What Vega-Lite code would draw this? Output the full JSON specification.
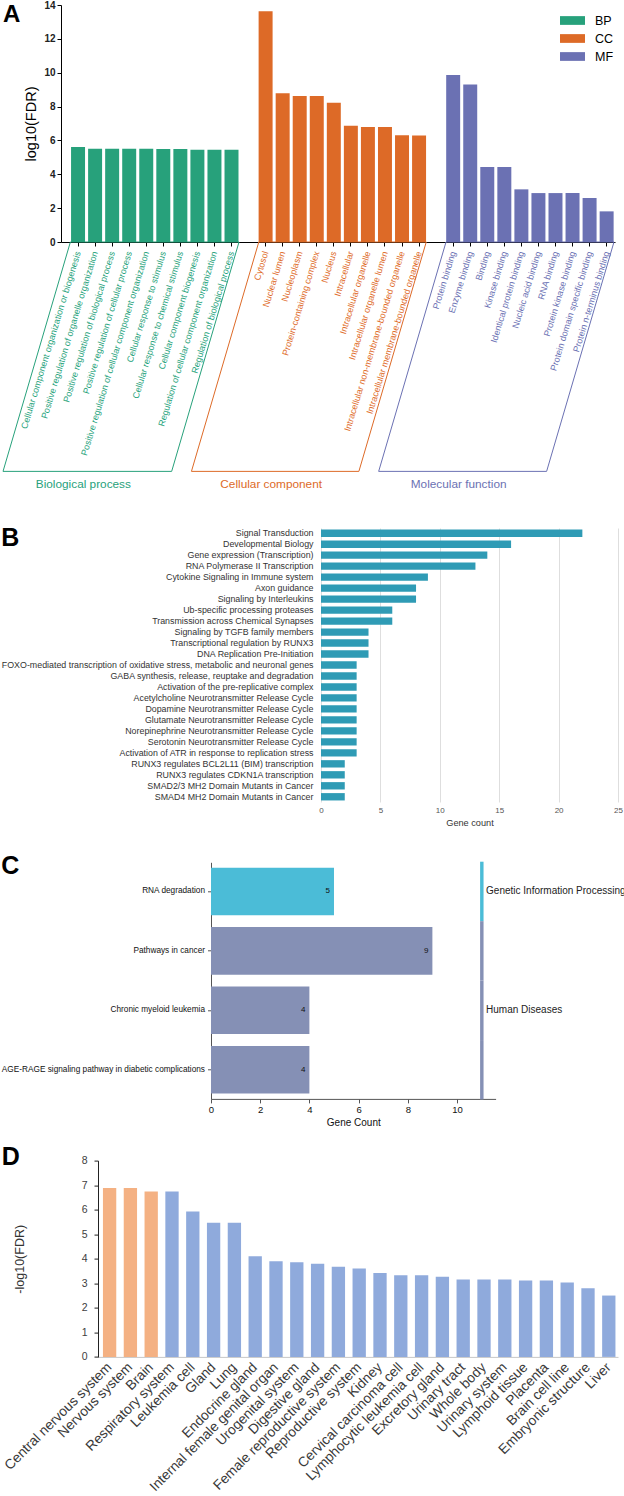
{
 "$schema": "https://vega.github.io/schema/vega-lite/v6.json",
 "background": "white",
 "padding": {"left": 0, "top": 0, "right": 0, "bottom": 0},
 "config": {
  "font": "Liberation Sans",
  "view": {"stroke": null},
  "axis": {"labelFont": "Liberation Sans", "titleFont": "Liberation Sans", "labelOverlap": false, "labelFlush": false},
  "legend": {"labelFont": "Liberation Sans"},
  "title": {"font": "Liberation Sans", "fontWeight": "bold", "color": "black", "anchor": "start", "frame": "bounds", "fontSize": 25}
 },
 "datasets": {
  "goTerms": [
   {"term": "Cellular component organization or biogenesis", "group": "BP", "value": 5.61},
   {"term": "Positive regulation of organelle organization", "group": "BP", "value": 5.51},
   {"term": "Positive regulation of biological process", "group": "BP", "value": 5.51},
   {"term": "Positive regulation of cellular process", "group": "BP", "value": 5.51},
   {"term": "Positive regulation of cellular component organization", "group": "BP", "value": 5.51},
   {"term": "Cellular response to stimulus", "group": "BP", "value": 5.49},
   {"term": "Cellular response to chemical stimulus", "group": "BP", "value": 5.49},
   {"term": "Cellular component biogenesis", "group": "BP", "value": 5.45},
   {"term": "Regulation of cellular component organization", "group": "BP", "value": 5.45},
   {"term": "Regulation of biological process", "group": "BP", "value": 5.45},
   {"term": "Cytosol", "group": "CC", "value": 13.63},
   {"term": "Nuclear lumen", "group": "CC", "value": 8.79},
   {"term": "Nucleoplasm", "group": "CC", "value": 8.63},
   {"term": "Protein-containing complex", "group": "CC", "value": 8.63},
   {"term": "Nucleus", "group": "CC", "value": 8.23},
   {"term": "Intracellular", "group": "CC", "value": 6.86},
   {"term": "Intracellular organelle", "group": "CC", "value": 6.79},
   {"term": "Intracellular organelle lumen", "group": "CC", "value": 6.79},
   {"term": "Intracellular non-membrane-bounded organelle", "group": "CC", "value": 6.31},
   {"term": "Intracellular membrane-bounded organelle", "group": "CC", "value": 6.29},
   {"term": "Protein binding", "group": "MF", "value": 9.87},
   {"term": "Enzyme binding", "group": "MF", "value": 9.3},
   {"term": "Binding", "group": "MF", "value": 4.43},
   {"term": "Kinase binding", "group": "MF", "value": 4.43},
   {"term": "Identical protein binding", "group": "MF", "value": 3.11},
   {"term": "Nucleic acid binding", "group": "MF", "value": 2.89},
   {"term": "RNA binding", "group": "MF", "value": 2.89},
   {"term": "Protein kinase binding", "group": "MF", "value": 2.89},
   {"term": "Protein domain specific binding", "group": "MF", "value": 2.6},
   {"term": "Protein n-terminus binding", "group": "MF", "value": 1.81}
  ],
  "goBoxes": [
   {"group": "BP", "name": "Biological process", "k": 0, "sx": -0.45, "sy": 0},
   {"group": "BP", "name": "Biological process", "k": 1, "sx": 9.44, "sy": 0},
   {"group": "BP", "name": "Biological process", "k": 2, "sx": 5.49, "sy": -13.55},
   {"group": "BP", "name": "Biological process", "k": 3, "sx": -4.4, "sy": -13.55},
   {"group": "BP", "name": "Biological process", "k": 4, "sx": -0.45, "sy": 0},
   {"group": "CC", "name": "Cellular component", "k": 0, "sx": 10.6, "sy": 0},
   {"group": "CC", "name": "Cellular component", "k": 1, "sx": 20.42, "sy": 0},
   {"group": "CC", "name": "Cellular component", "k": 2, "sx": 16.47, "sy": -13.55},
   {"group": "CC", "name": "Cellular component", "k": 3, "sx": 6.65, "sy": -13.55},
   {"group": "CC", "name": "Cellular component", "k": 4, "sx": 10.6, "sy": 0},
   {"group": "MF", "name": "Molecular function", "k": 0, "sx": 21.58, "sy": 0},
   {"group": "MF", "name": "Molecular function", "k": 1, "sx": 31.43, "sy": 0},
   {"group": "MF", "name": "Molecular function", "k": 2, "sx": 27.48, "sy": -13.55},
   {"group": "MF", "name": "Molecular function", "k": 3, "sx": 17.63, "sy": -13.55},
   {"group": "MF", "name": "Molecular function", "k": 4, "sx": 21.58, "sy": 0}
  ],
  "reactome": [
   {"pathway": "Signal Transduction", "count": 22},
   {"pathway": "Developmental Biology", "count": 16},
   {"pathway": "Gene expression (Transcription)", "count": 14},
   {"pathway": "RNA Polymerase II Transcription", "count": 13},
   {"pathway": "Cytokine Signaling in Immune system", "count": 9},
   {"pathway": "Axon guidance", "count": 8},
   {"pathway": "Signaling by Interleukins", "count": 8},
   {"pathway": "Ub-specific processing proteases", "count": 6},
   {"pathway": "Transmission across Chemical Synapses", "count": 6},
   {"pathway": "Signaling by TGFB family members", "count": 4},
   {"pathway": "Transcriptional regulation by RUNX3", "count": 4},
   {"pathway": "DNA Replication Pre-Initiation", "count": 4},
   {"pathway": "FOXO-mediated transcription of oxidative stress, metabolic and neuronal genes", "count": 3},
   {"pathway": "GABA synthesis, release, reuptake and degradation", "count": 3},
   {"pathway": "Activation of the pre-replicative complex", "count": 3},
   {"pathway": "Acetylcholine Neurotransmitter Release Cycle", "count": 3},
   {"pathway": "Dopamine Neurotransmitter Release Cycle", "count": 3},
   {"pathway": "Glutamate Neurotransmitter Release Cycle", "count": 3},
   {"pathway": "Norepinephrine Neurotransmitter Release Cycle", "count": 3},
   {"pathway": "Serotonin Neurotransmitter Release Cycle", "count": 3},
   {"pathway": "Activation of ATR in response to replication stress", "count": 3},
   {"pathway": "RUNX3 regulates BCL2L11 (BIM) transcription", "count": 2},
   {"pathway": "RUNX3 regulates CDKN1A transcription", "count": 2},
   {"pathway": "SMAD2/3 MH2 Domain Mutants in Cancer", "count": 2},
   {"pathway": "SMAD4 MH2 Domain Mutants in Cancer", "count": 2}
  ],
  "kegg": [
   {"term": "RNA degradation", "count": 5, "category": "Genetic Information Processing"},
   {"term": "Pathways in cancer", "count": 9, "category": "Human Diseases"},
   {"term": "Chronic myeloid leukemia", "count": 4, "category": "Human Diseases"},
   {"term": "AGE-RAGE signaling pathway in diabetic complications", "count": 4, "category": "Human Diseases"}
  ],
  "keggLabels": [
   {"term": "RNA degradation", "category": "Genetic Information Processing"},
   {"term": "Chronic myeloid leukemia", "category": "Human Diseases"}
  ],
  "tissue": [
   {"tissue": "Central nervous system", "value": 6.88, "cls": "Nervous"},
   {"tissue": "Nervous system", "value": 6.88, "cls": "Nervous"},
   {"tissue": "Brain", "value": 6.74, "cls": "Nervous"},
   {"tissue": "Respiratory system", "value": 6.74, "cls": "Other"},
   {"tissue": "Leukemia cell", "value": 5.93, "cls": "Other"},
   {"tissue": "Gland", "value": 5.47, "cls": "Other"},
   {"tissue": "Lung", "value": 5.47, "cls": "Other"},
   {"tissue": "Endocrine gland", "value": 4.1, "cls": "Other"},
   {"tissue": "Internal female genital organ", "value": 3.9, "cls": "Other"},
   {"tissue": "Urogenital system", "value": 3.86, "cls": "Other"},
   {"tissue": "Digestive gland", "value": 3.8, "cls": "Other"},
   {"tissue": "Female reproductive system", "value": 3.67, "cls": "Other"},
   {"tissue": "Reproductive system", "value": 3.6, "cls": "Other"},
   {"tissue": "Kidney", "value": 3.42, "cls": "Other"},
   {"tissue": "Cervical carcinoma cell", "value": 3.33, "cls": "Other"},
   {"tissue": "Lymphocytic leukemia cell", "value": 3.33, "cls": "Other"},
   {"tissue": "Excretory gland", "value": 3.27, "cls": "Other"},
   {"tissue": "Urinary tract", "value": 3.15, "cls": "Other"},
   {"tissue": "Whole body", "value": 3.15, "cls": "Other"},
   {"tissue": "Urinary system", "value": 3.15, "cls": "Other"},
   {"tissue": "Lymphoid tissue", "value": 3.11, "cls": "Other"},
   {"tissue": "Placenta", "value": 3.11, "cls": "Other"},
   {"tissue": "Brain cell line", "value": 3.03, "cls": "Other"},
   {"tissue": "Embryonic structure", "value": 2.8, "cls": "Other"},
   {"tissue": "Liver", "value": 2.5, "cls": "Other"}
  ]
 },
 "spacing": 34,
 "resolve": {"scale": {"color": "independent"}},
 "vconcat": [
  {
   "spacing": 0,
   "resolve": {"scale": {"color": "independent"}},
   "hconcat": [
    {"width": 1, "height": 1, "data": {"values": []}, "mark": {"type": "point"}},
    {
     "width": 554,
     "height": 237,
     "title": {"text": "A", "fontSize": 24, "offset": -27, "dx": 2},
     "layer": [
      {
       "data": {"name": "goTerms"},
       "mark": {"type": "bar"},
       "encoding": {
        "x": {
         "field": "term", "type": "nominal",
         "scale": {"domain": ["Cellular component organization or biogenesis","Positive regulation of organelle organization","Positive regulation of biological process","Positive regulation of cellular process","Positive regulation of cellular component organization","Cellular response to stimulus","Cellular response to chemical stimulus","Cellular component biogenesis","Regulation of cellular component organization","Regulation of biological process","gap1","Cytosol","Nuclear lumen","Nucleoplasm","Protein-containing complex","Nucleus","Intracellular","Intracellular organelle","Intracellular organelle lumen","Intracellular non-membrane-bounded organelle","Intracellular membrane-bounded organelle","gap2","Protein binding","Enzyme binding","Binding","Kinase binding","Identical protein binding","Nucleic acid binding","RNA binding","Protein kinase binding","Protein domain specific binding","Protein n-terminus binding"], "paddingInner": 0.18, "paddingOuter": 0.335, "align": 0.88},
         "axis": {
          "values": ["Cellular component organization or biogenesis","Positive regulation of organelle organization","Positive regulation of biological process","Positive regulation of cellular process","Positive regulation of cellular component organization","Cellular response to stimulus","Cellular response to chemical stimulus","Cellular component biogenesis","Regulation of cellular component organization","Regulation of biological process","Cytosol","Nuclear lumen","Nucleoplasm","Protein-containing complex","Nucleus","Intracellular","Intracellular organelle","Intracellular organelle lumen","Intracellular non-membrane-bounded organelle","Intracellular membrane-bounded organelle","Protein binding","Enzyme binding","Binding","Kinase binding","Identical protein binding","Nucleic acid binding","RNA binding","Protein kinase binding","Protein domain specific binding","Protein n-terminus binding"],
          "title": null, "labelAngle": -73, "labelAlign": "right", "labelBaseline": "middle",
          "labelFontSize": 9, "labelPadding": 5, "labelLimit": 400,
          "labelColor": {"expr": "test(/binding$/i, datum.value) ? '#6b71b3' : (test(/^(Cytosol|Nuclear lumen|Nucleoplasm|Protein-containing complex|Nucleus|Intracellular)/, datum.value) ? '#e06c2a' : '#27a37c')"},
          "domainColor": "black", "tickColor": "black", "tickSize": 4
         }
        },
        "y": {
         "field": "value", "type": "quantitative",
         "scale": {"domain": [0, 14], "nice": false},
         "axis": {"values": [0,2,4,6,8,10,12,14], "grid": false, "title": "log10(FDR)", "titleFontSize": 14.5, "titleFontWeight": "normal", "titleColor": "black", "titlePadding": 5, "labelFontSize": 10, "labelFontWeight": "bold", "labelColor": "#222", "labelPadding": 2, "tickSize": 4, "tickColor": "black", "domainColor": "black"}
        },
        "color": {
         "field": "group", "type": "nominal",
         "scale": {"domain": ["BP","CC","MF"], "range": ["#27a17b","#dd6a27","#6b71b3"]},
         "legend": {"title": null, "orient": "none", "legendX": 505, "legendY": 9, "symbolType": "M-2,-0.7L2,-0.7L2,0.7L-2,0.7Z", "symbolSize": 156, "symbolStrokeWidth": 0, "labelFontSize": 12.5, "labelColor": "black", "labelOffset": 16, "rowPadding": 5, "padding": 0}
        }
       }
      },
      {
       "data": {"name": "goBoxes"},
       "mark": {"type": "line", "clip": false, "strokeWidth": 1},
       "encoding": {
        "x": {"field": "sx", "type": "quantitative", "scale": {"domain": [-1, 31.49], "nice": false, "zero": false}, "axis": null},
        "y": {"field": "sy", "type": "quantitative", "scale": {"domain": [0, 14], "nice": false, "zero": false}, "axis": null},
        "color": {"field": "group", "type": "nominal", "scale": {"domain": ["BP","CC","MF"], "range": ["#27a17b","#dd6a27","#6b71b3"]}, "legend": null},
        "order": {"field": "k", "type": "quantitative"}
       }
      },
      {
       "data": {"name": "goBoxes"},
       "transform": [
        {"filter": "datum.k == 2 || datum.k == 3"},
        {"aggregate": [{"op": "mean", "field": "sx", "as": "mx"}, {"op": "min", "field": "sy", "as": "my"}], "groupby": ["group", "name"]}
       ],
       "mark": {"type": "text", "fontSize": 11.8, "baseline": "top", "align": "center", "dy": 8, "dx": -4, "clip": false},
       "encoding": {
        "x": {"field": "mx", "type": "quantitative", "scale": {"domain": [-1, 31.49], "nice": false, "zero": false}, "axis": null},
        "y": {"field": "my", "type": "quantitative", "scale": {"domain": [0, 14], "nice": false, "zero": false}, "axis": null},
        "text": {"field": "name"},
        "color": {"field": "group", "type": "nominal", "scale": {"domain": ["BP","CC","MF"], "range": ["#27a17b","#dd6a27","#6b71b3"]}, "legend": null}
       }
      }
     ],
     "resolve": {"scale": {"x": "independent", "y": "independent", "color": "independent"}}
    }
   ]
  },
  {
   "spacing": 25.3,
   "resolve": {"scale": {"color": "independent"}},
   "vconcat": [
    {
     "spacing": 0,
     "resolve": {"scale": {"color": "independent"}},
     "hconcat": [
      {"width": 1, "height": 1, "data": {"values": []}, "mark": {"type": "point"}},
      {
       "width": 297,
       "height": 274,
       "title": {"text": "B", "offset": -23.3},
       "data": {"name": "reactome"},
       "mark": {"type": "bar", "color": "#2f9bb5"},
       "encoding": {
        "y": {"field": "pathway", "type": "nominal", "sort": null, "scale": {"paddingInner": 0.33, "paddingOuter": 0.14}, "axis": {"title": null, "domain": false, "ticks": false, "labelFontSize": 8.85, "labelPadding": 8, "labelColor": "#333", "labelLimit": 400}},
        "x": {"field": "count", "type": "quantitative", "scale": {"domain": [0, 25], "nice": false}, "axis": {"values": [0,5,10,15,20,25], "grid": true, "gridColor": "#dedede", "domain": false, "ticks": false, "labelFontSize": 8, "labelColor": "#555", "labelPadding": 4, "title": "Gene count", "titleFontSize": 9.2, "titleFontWeight": "normal", "titleColor": "#333", "titlePadding": 4}}
       }
      }
     ]
    },
    {
     "spacing": 16.3,
     "resolve": {"scale": {"color": "independent"}},
     "vconcat": [
      {
       "spacing": 0,
       "resolve": {"scale": {"color": "independent"}},
       "hconcat": [
        {"width": 1, "height": 1, "data": {"values": []}, "mark": {"type": "point"}},
        {
         "width": 284.6,
         "height": 236.6,
         "title": {"text": "C", "offset": -17.3},
         "data": {"name": "kegg"},
         "layer": [
          {
           "mark": {"type": "bar"},
           "encoding": {
            "y": {"field": "term", "type": "nominal", "scale": {"domain": ["RNA degradation","Pathways in cancer","Chronic myeloid leukemia","AGE-RAGE signaling pathway in diabetic complications"], "paddingInner": 0.2, "paddingOuter": 0.09}, "axis": {"title": null, "labelFontSize": 8.25, "labelColor": "#111", "labelPadding": 3, "labelLimit": 400, "tickSize": 3.5, "tickColor": "#555", "domainColor": "#555"}},
            "x": {"field": "count", "type": "quantitative", "scale": {"domain": [0, 11.57], "nice": false}, "axis": {"values": [0,2,4,6,8,10], "grid": false, "title": "Gene Count", "titleFontSize": 10, "titleFontWeight": "normal", "titleColor": "#111", "titlePadding": 3, "labelFontSize": 9.5, "labelColor": "#111", "labelPadding": 2, "tickSize": 4, "tickColor": "#555", "domainColor": "#555"}},
            "color": {"field": "category", "type": "nominal", "scale": {"domain": ["Genetic Information Processing","Human Diseases"], "range": ["#4bbcd7","#8590b5"]}, "legend": null}
           }
          },
          {
           "mark": {"type": "text", "align": "right", "baseline": "middle", "dx": -4, "fontSize": 8, "color": "#111"},
           "encoding": {
            "y": {"field": "term", "type": "nominal"},
            "x": {"field": "count", "type": "quantitative"},
            "text": {"field": "count"}
           }
          },
          {
           "mark": {"type": "bar", "height": {"band": 1.25}},
           "encoding": {
            "y": {"field": "term", "type": "nominal"},
            "x": {"datum": 10.94},
            "x2": {"datum": 11.08},
            "color": {"field": "category", "type": "nominal"}
           }
          },
          {
           "data": {"name": "keggLabels"},
           "mark": {"type": "text", "align": "left", "baseline": "middle", "dx": 2.5, "fontSize": 10, "color": "#222"},
           "encoding": {
            "y": {"field": "term", "type": "nominal"},
            "x": {"datum": 11.08},
            "text": {"field": "category"}
           }
          }
         ]
        }
       ]
      },
      {
       "spacing": 0,
       "resolve": {"scale": {"color": "independent"}},
       "hconcat": [
        {"width": 1, "height": 1, "data": {"values": []}, "mark": {"type": "point"}},
        {
         "width": 520,
         "height": 196.3,
         "title": {"text": "D", "offset": -14},
         "data": {"name": "tissue"},
         "mark": {"type": "bar"},
         "encoding": {
          "x": {"field": "tissue", "type": "nominal", "sort": null, "scale": {"paddingInner": 0.36, "paddingOuter": 0.18, "align": 0.66}, "axis": {"title": null, "labelAngle": -45, "labelAlign": "right", "labelBaseline": "middle", "labelFontSize": 13.8, "labelColor": "#3a3a3a", "labelPadding": 8, "ticks": false, "domainColor": "#c8c8c8", "labelLimit": 400}},
          "y": {"field": "value", "type": "quantitative", "scale": {"domain": [0, 8], "nice": false}, "axis": {"values": [0,1,2,3,4,5,6,7,8], "grid": false, "title": "-log10(FDR)", "titleFontSize": 12.5, "titleFontWeight": "normal", "titleColor": "#333", "titlePadding": 55, "labelFontSize": 10.5, "labelColor": "#404040", "labelPadding": 7, "tickSize": 4, "tickColor": "#222", "domainColor": "#222"}},
          "color": {"field": "cls", "type": "nominal", "scale": {"domain": ["Nervous","Other"], "range": ["#f4b183","#8faadc"]}, "legend": null}
         }
        }
       ]
      }
     ]
    }
   ]
  }
 ]
}
